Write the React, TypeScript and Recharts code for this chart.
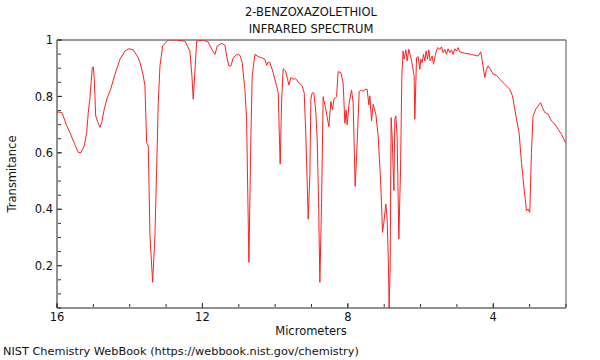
import { LineChart, Line, XAxis, YAxis, ReferenceLine } from "recharts";

// wavelength (micrometers) and transmittance
const wavelength = [
  16.0, 15.863, 15.733, 15.643, 15.552, 15.414, 15.34, 15.249, 15.183, 15.14,
  15.093, 15.03, 15.002, 14.975, 14.936, 14.881, 14.818, 14.771, 14.7, 14.617,
  14.524, 14.405, 14.268, 14.131, 14.021, 13.902, 13.765, 13.718, 13.627, 13.581,
  13.534, 13.49, 13.443, 13.369, 13.306, 13.259, 13.215, 13.168, 13.094, 12.94,
  12.709, 12.481, 12.344, 12.289, 12.253, 12.214, 12.159, 11.978, 11.841, 11.747,
  11.656, 11.593, 11.472, 11.381, 11.335, 11.271, 11.216, 11.153, 11.06, 10.969,
  10.906, 10.832, 10.785, 10.722, 10.667, 10.631, 10.557, 10.466, 10.373, 10.282,
  10.235, 10.191, 10.144, 10.054, 9.96, 9.916, 9.889, 9.861, 9.823, 9.779,
  9.713, 9.658, 9.622, 9.567, 9.504, 9.438, 9.347, 9.256, 9.201, 9.155,
  9.091, 9.045, 9.017, 8.981, 8.935, 8.88, 8.844, 8.805, 8.77, 8.723,
  8.679, 8.605, 8.522, 8.467, 8.421, 8.385, 8.311, 8.267, 8.192, 8.129,
  8.082, 8.047, 8.019, 7.964, 7.898, 7.854, 7.799, 7.744, 7.689, 7.623,
  7.579, 7.533, 7.469, 7.423, 7.395, 7.349, 7.304, 7.23, 7.167, 7.101,
  7.046, 7.01, 6.955, 6.919, 6.881, 6.865, 6.837, 6.81, 6.782, 6.735,
  6.708, 6.68, 6.645, 6.598, 6.551, 6.515, 6.48, 6.452, 6.405, 6.37,
  6.323, 6.276, 6.221, 6.177, 6.158, 6.111, 6.067, 6.021, 5.993, 5.957,
  5.919, 5.883, 5.847, 5.809, 5.773, 5.737, 5.682, 5.644, 5.589, 5.534,
  5.471, 5.424, 5.38, 5.333, 5.287, 5.243, 5.196, 5.149, 5.105, 5.058,
  5.012, 4.968, 4.921, 4.784, 4.6, 4.418, 4.344, 4.281, 4.234, 4.187,
  4.143, 4.077, 4.005, 3.912, 3.821, 3.684, 3.546, 3.472, 3.409, 3.362,
  3.291, 3.225, 3.153, 3.087, 3.043, 2.997, 2.95, 2.906, 2.832, 2.768,
  2.702, 2.647, 2.584, 2.493, 2.4, 2.309, 2.218, 2.125, 2.034, 2.0,
];

const transmittance = [
  0.745, 0.743, 0.696, 0.672, 0.642, 0.601, 0.601, 0.625, 0.672, 0.743,
  0.796, 0.902, 0.905, 0.862, 0.731, 0.71, 0.69, 0.707, 0.755, 0.796,
  0.825, 0.879, 0.932, 0.961, 0.969, 0.965, 0.937, 0.92, 0.873, 0.837,
  0.636, 0.625, 0.306, 0.141, 0.306, 0.542, 0.778, 0.908, 0.979, 1.0,
  1.0, 0.996, 0.961, 0.873, 0.79, 0.873, 0.996, 1.0, 0.993, 0.967,
  0.949, 0.979, 0.988, 0.982, 0.943, 0.908, 0.908, 0.937, 0.949, 0.946,
  0.92, 0.825, 0.719, 0.212, 0.66, 0.873, 0.949, 0.941, 0.937, 0.932,
  0.91, 0.922, 0.92, 0.884, 0.837, 0.813, 0.684, 0.56, 0.778, 0.898,
  0.89, 0.861, 0.84, 0.867, 0.861, 0.863, 0.849, 0.837, 0.813, 0.66,
  0.365, 0.519, 0.79, 0.813, 0.811, 0.743, 0.648, 0.424, 0.141, 0.424,
  0.799, 0.752, 0.693, 0.782, 0.752, 0.79, 0.799, 0.888, 0.884, 0.847,
  0.705, 0.752, 0.699, 0.776, 0.823, 0.776, 0.481, 0.634, 0.817, 0.823,
  0.817, 0.825, 0.825, 0.77, 0.802, 0.713, 0.772, 0.737, 0.66, 0.507,
  0.318, 0.353, 0.418, 0.365, 0.188, 0.05, 0.188, 0.725, 0.66, 0.466,
  0.719, 0.731, 0.66, 0.295, 0.542, 0.873, 0.961, 0.932, 0.965, 0.926,
  0.967, 0.943, 0.908, 0.873, 0.719, 0.937, 0.941, 0.896, 0.932, 0.92,
  0.949, 0.926, 0.961, 0.932, 0.965, 0.926, 0.943, 0.914, 0.949, 0.973,
  0.967, 0.976, 0.955, 0.967, 0.949, 0.969, 0.955, 0.965, 0.949, 0.969,
  0.961, 0.973, 0.958, 0.953, 0.949, 0.943, 0.958, 0.908, 0.867, 0.896,
  0.908, 0.896, 0.879, 0.875, 0.861, 0.843, 0.825, 0.802, 0.755, 0.719,
  0.672, 0.566, 0.472, 0.395, 0.401, 0.389, 0.601, 0.731, 0.755, 0.766,
  0.778, 0.76, 0.743, 0.737, 0.713, 0.702, 0.684, 0.666, 0.642, 0.635,
];

const xTicks = [16, 12, 8, 4];
const xMinorTicks = [16, 15, 14, 13, 12, 11, 10, 9, 8, 7, 6, 5, 4, 3, 2];
const yTicks = [0.2, 0.4, 0.6, 0.8, 1];
const yMinorTicks = [
  0.05, 0.1, 0.15, 0.2, 0.25, 0.3, 0.35, 0.4, 0.45, 0.5,
  0.55, 0.6, 0.65, 0.7, 0.75, 0.8, 0.85, 0.9, 0.95, 1,
];

const data = wavelength.map((um, i) => ({ um, t: transmittance[i] }));

const FONT = "'DejaVu Sans', sans-serif";
const tickStyle = { fontSize: 11.5, fill: "#111", fontFamily: FONT };
const noLabel = () => <g />;

export default function App() {
  return (
    <div style={{ position: "absolute", left: 0, top: 0, width: 600, height: 360, background: "#fff", fontFamily: FONT, color: "#111" }}>
      <LineChart width={600} height={360} data={data}
        margin={{ top: 40, right: 34, bottom: 22, left: 7 }}>
        <XAxis dataKey="um" type="number" domain={[2, 16]} reversed allowDataOverflow
          ticks={xTicks} interval={0} tickLine={false} tickSize={0} tickMargin={5}
          axisLine={{ stroke: "#222" }} tick={tickStyle} height={30} />
        {/* inward tick marks: mirrored axes drawn over the plot edge */}
        <XAxis xAxisId="minor" dataKey="um" type="number" domain={[2, 16]} reversed allowDataOverflow
          ticks={xMinorTicks} interval={0} mirror height={1} tick={noLabel} axisLine={false}
          tickSize={3} tickLine={{ stroke: "#333" }} />
        <XAxis xAxisId="major" dataKey="um" type="number" domain={[2, 16]} reversed allowDataOverflow
          ticks={xTicks} interval={0} mirror height={1} tick={noLabel} axisLine={false}
          tickSize={5} tickLine={{ stroke: "#333" }} />
        <YAxis domain={[0.05, 1]} allowDataOverflow ticks={yTicks} interval={0}
          tickLine={false} tickSize={0} tickMargin={4} width={50}
          axisLine={{ stroke: "#222" }} tick={tickStyle}
          tickFormatter={v => (v === 1 ? "1" : v.toFixed(1))} />
        <YAxis yAxisId="minor" domain={[0.05, 1]} allowDataOverflow ticks={yMinorTicks} interval={0}
          mirror width={1} tick={noLabel} axisLine={false} tickSize={3} tickLine={{ stroke: "#333" }} />
        <YAxis yAxisId="major" domain={[0.05, 1]} allowDataOverflow ticks={yTicks} interval={0}
          mirror width={1} tick={noLabel} axisLine={false} tickSize={5} tickLine={{ stroke: "#333" }} />
        <ReferenceLine y={1} stroke="#9a9a9a" strokeWidth={2} />
        <ReferenceLine x={2} stroke="#555" strokeWidth={1} />
        <Line type="linear" dataKey="t" stroke="#ff2020" strokeWidth={1}
          dot={false} isAnimationActive={false} />
      </LineChart>

      <div style={{ position: "absolute", left: 161, top: 4, width: 300, textAlign: "center", fontSize: 11.5, lineHeight: "17px" }}>
        2-BENZOXAZOLETHIOL<br />INFRARED SPECTRUM
      </div>
      <div style={{ position: "absolute", left: 211, top: 323, width: 200, textAlign: "center", fontSize: 11.5, lineHeight: "17px" }}>
        Micrometers
      </div>
      <div style={{ position: "absolute", left: 12, top: 174, transform: "translate(-50%, -50%) rotate(-90deg)", whiteSpace: "nowrap", fontSize: 11.5, lineHeight: "17px" }}>
        Transmitance
      </div>
      <div style={{ position: "absolute", left: 3, top: 343, whiteSpace: "nowrap", fontSize: 11.3, lineHeight: "17px" }}>
        NIST Chemistry WebBook (https://webbook.nist.gov/chemistry)
      </div>
    </div>
  );
}
